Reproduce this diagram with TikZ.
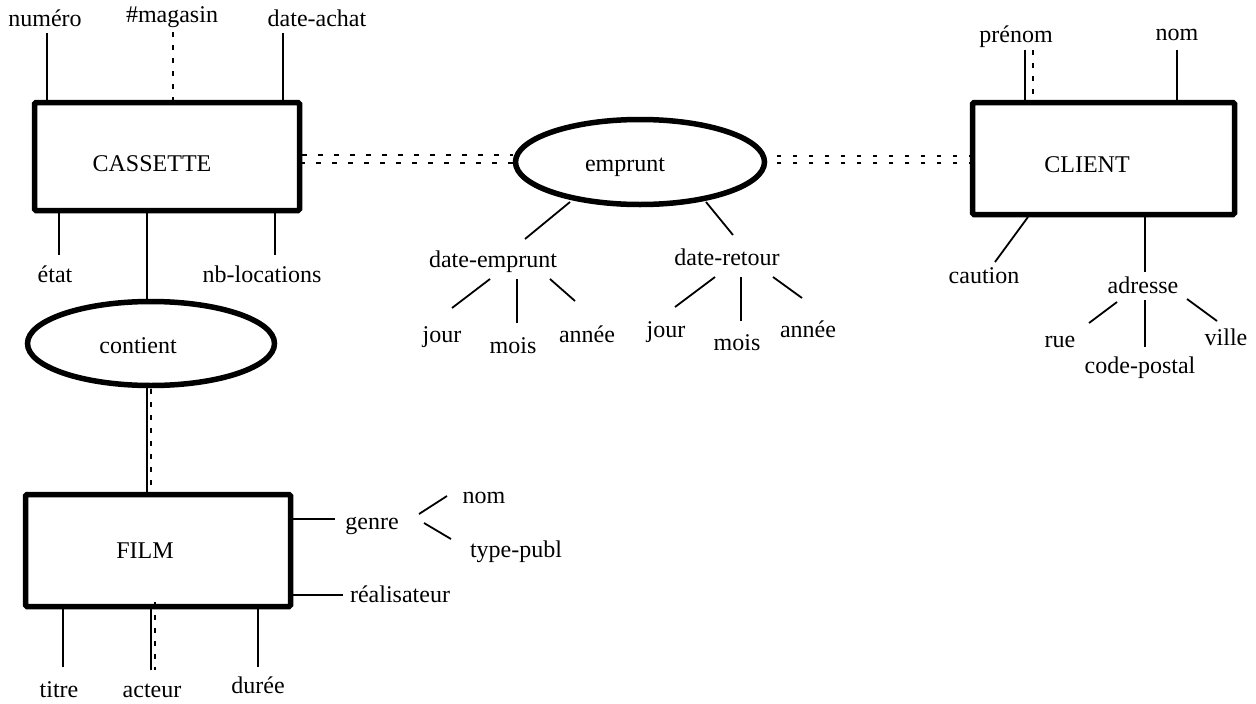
\documentclass[tikz,border=0pt]{standalone}
\usepackage{fontspec}
\setmainfont{Liberation Serif}
\usetikzlibrary{shapes.geometric}
\begin{document}
\begin{tikzpicture}[x=1pt,y=-1pt,
  lbl/.style={anchor=base,inner sep=0pt,font=\fontsize{24}{28}\selectfont},
  entity/.style={draw,line width=5.5pt,rounded corners=1.5pt,inner sep=0pt},
  relation/.style={draw,ellipse,line width=5.5pt,inner sep=0pt},
  att/.style={line width=1.8pt},
  dsh/.style={line width=2pt,dash pattern=on 5pt off 8pt},
  dbl/.style={line width=2.2pt,dash pattern=on 5pt off 11pt},
  dots/.style={line width=2.2pt,dash pattern=on 4pt off 12pt}]
\useasboundingbox (0,0) rectangle (1256,704);

% entities and relations
\node[entity,minimum width=265pt,minimum height=108pt] (cassette) at (167,156.5) {};
\node[entity,minimum width=262pt,minimum height=112pt] (client) at (1103.5,158.5) {};
\node[entity,minimum width=265pt,minimum height=112pt] (film) at (158,550.5) {};
\node[relation,minimum width=249pt,minimum height=85pt] (emprunt) at (640,162) {};
\node[relation,minimum width=247pt,minimum height=84pt] (contient) at (151,343.5) {};

\node[lbl] (tcassette) at (152,171) {CASSETTE};
\node[lbl] (tclient) at (1087,172) {CLIENT};
\node[lbl] (tfilm) at (145,558) {FILM};
\node[lbl] (temprunt) at (625,171) {emprunt};
\node[lbl] (tcontient) at (138,353) {contient};

% labels
\node[lbl] (numero) at (45,27) {numéro};
\node[lbl] (magasin) at (172,23) {\#magasin};
\node[lbl] (dateachat) at (317,27) {date-achat};
\node[lbl] (etat) at (55,282) {état};
\node[lbl] (nbloc) at (262,282) {nb-locations};
\node[lbl] (dateemp) at (493,267) {date-emprunt};
\node[lbl] (dateret) at (727,265) {date-retour};
\node[lbl] (jour1) at (442,342) {jour};
\node[lbl] (mois1) at (513,353) {mois};
\node[lbl] (annee1) at (587,342) {année};
\node[lbl] (jour2) at (666,337) {jour};
\node[lbl] (mois2) at (737,350) {mois};
\node[lbl] (annee2) at (808,337) {année};
\node[lbl] (prenom) at (1016,42) {prénom};
\node[lbl] (nomc) at (1177,40) {nom};
\node[lbl] (caution) at (984,283) {caution};
\node[lbl] (adresse) at (1143,293) {adresse};
\node[lbl] (rue) at (1060,347) {rue};
\node[lbl] (ville) at (1226,345) {ville};
\node[lbl] (codepostal) at (1140,373) {code-postal};
\node[lbl] (genre) at (372,529) {genre};
\node[lbl] (nomg) at (484,503) {nom};
\node[lbl] (typepubl) at (516,557) {type-publ};
\node[lbl] (realisateur) at (400,602) {réalisateur};
\node[lbl] (titre) at (59,697) {titre};
\node[lbl] (acteur) at (152,697) {acteur};
\node[lbl] (duree) at (258,693) {durée};

% CASSETTE attributes
\coordinate (a1) at (47,33);  \draw[att] (a1) -- (a1 |- cassette.north);
\coordinate (a2) at (173,32); \draw[dsh] (a2) -- (a2 |- cassette.north);
\coordinate (a3) at (283,33); \draw[att] (a3) -- (a3 |- cassette.north);
\coordinate (a4) at (59,255); \draw[att] (a4) -- (a4 |- cassette.south);
\coordinate (a5) at (275,255); \draw[att] (a5) -- (a5 |- cassette.south);
\coordinate (a6) at (147,213); \draw[att] (a6 |- cassette.south) -- (a6 |- contient.north);

% contient - FILM
\coordinate (b1) at (147,388); \draw[att] (b1) -- (b1 |- film.north);
\coordinate (b2) at (151,389); \draw[dsh] (b2) -- (b2 |- film.north);

% FILM attributes
\coordinate (f1) at (63,667);  \draw[att] (f1) -- (f1 |- film.south);
\coordinate (f2) at (151,670); \draw[att] (f2) -- (f2 |- film.south);
\coordinate (f3) at (155,602); \coordinate (f3b) at (155,670); \draw[dsh] (f3) -- (f3b);
\coordinate (f4) at (258,667); \draw[att] (f4) -- (f4 |- film.south);
\coordinate (g1) at (335,519); \draw[att] (g1 -| film.east) -- (g1);
\coordinate (g2) at (343,595); \draw[att] (g2 -| film.east) -- (g2);
\coordinate (g3) at (419,514); \coordinate (g4) at (447,496); \draw[att] (g3) -- (g4);
\coordinate (g5) at (424,523); \coordinate (g6) at (451,539); \draw[att] (g5) -- (g6);

% CASSETTE - emprunt - CLIENT
\coordinate (d1) at (302,155); \draw[dbl] (d1) -- (d1 -| emprunt.west);
\coordinate (d2) at (300,163); \draw[dbl] (d2) -- (d2 -| emprunt.west);
\coordinate (e1) at (777,156); \draw[dots] (e1) -- (e1 -| client.west);
\coordinate (e2) at (777,163); \draw[dots] (e2) -- (e2 -| client.west);

% emprunt attributes
\coordinate (m1) at (570,202); \coordinate (m2) at (525,239); \draw[att] (m1) -- (m2);
\coordinate (m3) at (706,202); \coordinate (m4) at (733,235); \draw[att] (m3) -- (m4);
\coordinate (p1) at (490,279); \coordinate (p2) at (452,308); \draw[att] (p1) -- (p2);
\coordinate (p3) at (517,279); \coordinate (p4) at (517,323); \draw[att] (p3) -- (p4);
\coordinate (p5) at (550,279); \coordinate (p6) at (575,301); \draw[att] (p5) -- (p6);
\coordinate (q1) at (715,277); \coordinate (q2) at (675,307); \draw[att] (q1) -- (q2);
\coordinate (q3) at (741,277); \coordinate (q4) at (741,321); \draw[att] (q3) -- (q4);
\coordinate (q5) at (773,277); \coordinate (q6) at (802,298); \draw[att] (q5) -- (q6);

% CLIENT attributes
\coordinate (c1) at (1025,50); \draw[att] (c1) -- (c1 |- client.north);
\coordinate (c2) at (1033,50); \draw[dsh] (c2) -- (1033,98);
\coordinate (c3) at (1177,50); \draw[att] (c3) -- (c3 |- client.north);
\coordinate (c4) at (1028,217); \coordinate (c5) at (995,262); \draw[att] (c4) -- (c5);
\coordinate (c6) at (1145,272); \draw[att] (c6 |- client.south) -- (c6);
\coordinate (r1) at (1117,302); \coordinate (r2) at (1089,323); \draw[att] (r1) -- (r2);
\coordinate (r3) at (1145,300); \coordinate (r4) at (1145,347); \draw[att] (r3) -- (r4);
\coordinate (r5) at (1187,299); \coordinate (r6) at (1217,321); \draw[att] (r5) -- (r6);
\end{tikzpicture}
\end{document}
